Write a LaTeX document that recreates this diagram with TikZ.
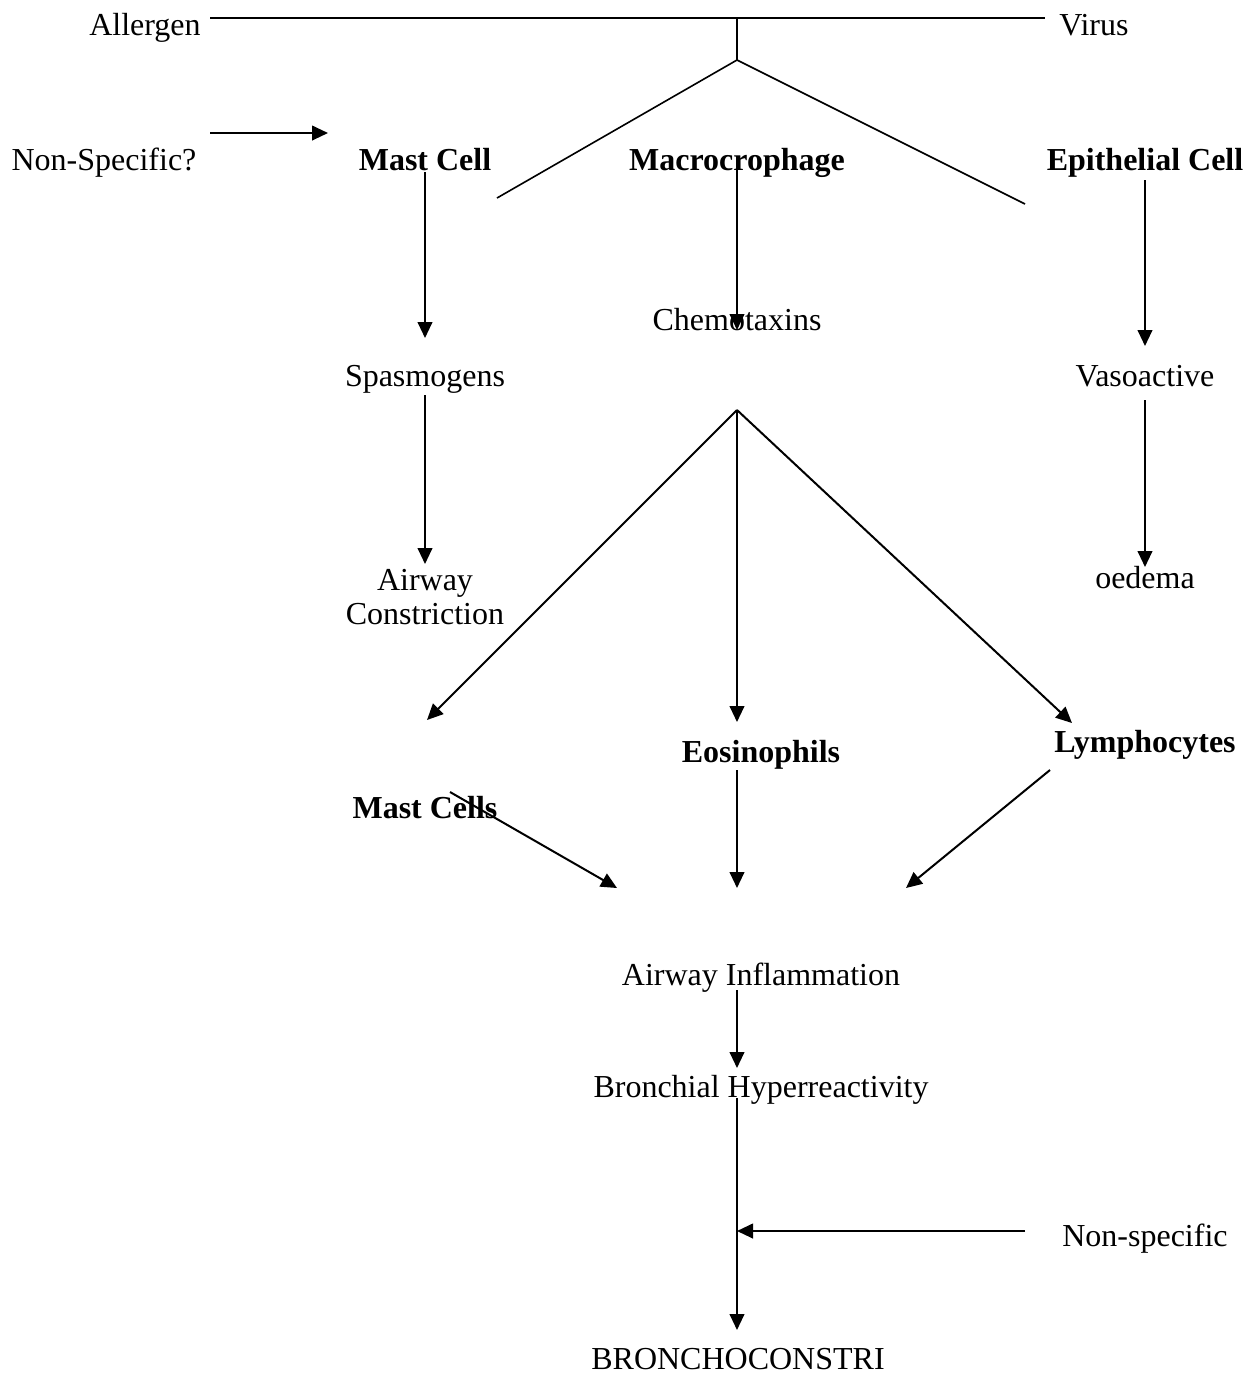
\documentclass[tikz,border=0pt]{standalone}
\usepackage{fontspec}
\setmainfont{Liberation Serif}
\usetikzlibrary{arrows.meta}
\begin{document}
\begin{tikzpicture}[x=0.375pt, y=-0.375pt, font=\fontsize{12}{14}\selectfont, line join=round, >={Triangle[length=6pt,width=5.5pt]},
	every node/.style={inner sep=0pt, anchor=base},
	txt/.style={},
	cell/.style={font=\fontsize{12}{14}\selectfont\bfseries},
	ln/.style={line width=0.6pt},
	arr/.style={->, line width=0.75pt}]
	\useasboundingbox (0,0) rectangle (1258,1374);
	% cac nhan
	\node[txt] (allergen) at (145,35) {Allergen};
	\node[txt] (virus) at (1094,35) {Virus};
	\node[txt] (nonspec1) at (104,170) {Non-Specific?};
	\node[cell] (mast) at (425,170) {Mast Cell};
	\node[cell] (macro) at (737,170) {Macrocrophage};
	\node[cell] (epith) at (1145,170) {Epithelial Cell};
	\node[txt] (chemo) at (737,330) {Chemotaxins};
	\node[txt] (spasm) at (425,386) {Spasmogens};
	\node[txt] (vaso) at (1145,386) {Vasoactive};
	\node[txt, align=center, anchor=center] (constr) at (425,597) {Airway\\[-1pt]Constriction};
	\node[txt] (oedema) at (1145,588) {oedema};
	\node[cell] (eosin) at (761,762) {Eosinophils};
	\node[cell] (lympho) at (1145,752) {Lymphocytes};
	\node[cell] (mastc) at (425,818) {Mast Cells};
	\node[txt] (inflam) at (761,985) {Airway Inflammation};
	\node[txt] (hyper) at (761,1097) {Bronchial Hyperreactivity};
	\node[txt] (nonspec2) at (1145,1246) {Non-specific};
	\node[txt] (broncho) at (738,1369) {BRONCHOCONSTRI};
	% cac diem noi
	\coordinate (L) at (210,18);
	\coordinate (R) at (1045,18);
	\coordinate (T) at (737,18);
	\coordinate (V) at (737,60);
	\coordinate (VL) at (497,198);
	\coordinate (VR) at (1025,204);
	\coordinate (C) at (737,410);
	\coordinate (J) at (737,1231);
	% duong ve
	\draw[ln] (L)--(R) (T)--(V);
	\draw[ln] (VL)--(V)--(VR);
	\draw[arr] (210,133)--(328,133);
	\draw[arr] (425,172)--(425,338);
	\draw[arr] (737,168)--(737,330);
	\draw[arr] (1145,180)--(1145,346);
	\draw[arr] (425,395)--(425,564);
	\draw[arr] (1145,400)--(1145,567);
	\foreach \diem in {(427,720),(737,722),(1072,723)}
		\draw[arr] (C)--\diem;
	\draw[arr] (450,792)--(617,888);
	\draw[arr] (737,770)--(737,888);
	\draw[arr] (1050,770)--(906,888);
	\draw[arr] (737,990)--(737,1068);
	\draw[arr] (737,1098)--(737,1330);
	\draw[arr] (1025,1231)--(J);
\end{tikzpicture}
\end{document}
